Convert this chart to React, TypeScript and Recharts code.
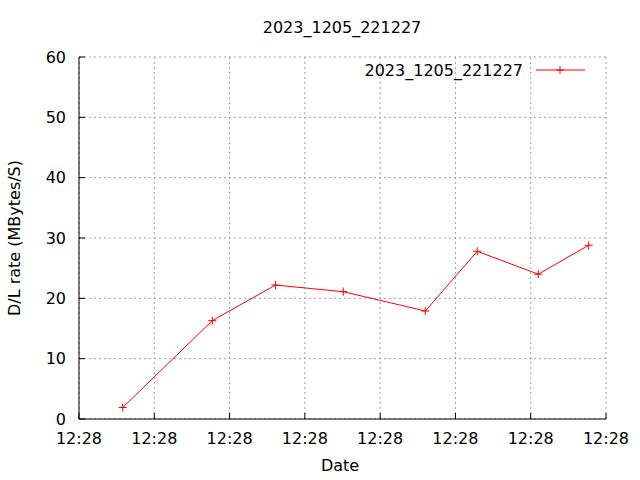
import React from "react";
import { LineChart, Line, XAxis, YAxis, CartesianGrid } from "recharts";

const SERIES_NAME = "2023_1205_221227";
// seconds since the first tick (all ticks print as 12:28)
const times = [5.8, 17.7, 26.1, 35.1, 46.0, 52.9, 61.0, 67.7];
const rates = [1.9, 16.3, 22.2, 21.1, 17.9, 27.8, 24.0, 28.8];
const xTicks = [0, 10, 20, 30, 40, 50, 60, 70];
const xTickLabels = ["12:28", "12:28", "12:28", "12:28", "12:28", "12:28", "12:28", "12:28"];
const yTicks = [0, 10, 20, 30, 40, 50, 60];

const FONT = "'DejaVu Sans', sans-serif";
const data = times.map((t, i) => ({ t, rate: rates[i] }));

const PlusDot = (props: any) => {
  const { cx, cy } = props;
  if (cx == null || cy == null) return null;
  return (
    <path
      d={`M${cx - 4},${cy}h8M${cx},${cy - 4}v8`}
      stroke="#ff0000"
      strokeWidth={1}
      fill="none"
    />
  );
};

const tickStyle = { fill: "#000", fontSize: 16, fontFamily: FONT };

export default function App() {
  return (
    <div style={{ position: "absolute", left: 0, top: 0, width: 640, height: 480, background: "#fff" }}>
      <LineChart
        width={640}
        height={480}
        data={data}
        margin={{ top: 57, right: 34, bottom: 0, left: 0 }}
      >
        <CartesianGrid stroke="#a0a0a0" strokeDasharray="2 3" verticalValues={xTicks} horizontalValues={yTicks} />
        <XAxis
          dataKey="t"
          type="number"
          domain={[0, 70]}
          ticks={xTicks}
          tickFormatter={(v: number) => xTickLabels[xTicks.indexOf(v)] ?? ""}
          height={61}
          tickSize={-6}
          tickMargin={20}
          stroke="#000"
          tick={tickStyle}
          interval={0}
        />
        <XAxis
          xAxisId="top"
          orientation="top"
          type="number"
          domain={[0, 70]}
          ticks={xTicks}
          tickFormatter={() => ""}
          height={0}
          tickSize={-6}
          stroke="#000"
          interval={0}
        />
        <YAxis
          type="number"
          domain={[0, 60]}
          ticks={yTicks}
          width={79}
          tickSize={-6}
          tickMargin={19}
          stroke="#000"
          tick={tickStyle}
          interval={0}
        />
        <YAxis
          yAxisId="right"
          orientation="right"
          type="number"
          domain={[0, 60]}
          ticks={yTicks}
          width={0}
          tickSize={-6}
          tickFormatter={() => ""}
          stroke="#000"
          interval={0}
        />
        <Line
          dataKey="rate"
          name={SERIES_NAME}
          stroke="#ff0000"
          strokeWidth={1}
          dot={<PlusDot />}
          activeDot={false}
          isAnimationActive={false}
        />
      </LineChart>
      <svg
        width={640}
        height={480}
        style={{ position: "absolute", left: 0, top: 0, pointerEvents: "none" }}
        fontFamily={FONT}
        fontSize={16}
        fill="#000"
      >
        <text x={342} y={27} textAnchor="middle" dominantBaseline="central">
          {SERIES_NAME}
        </text>
        <text x={340} y={465} textAnchor="middle" dominantBaseline="central">
          Date
        </text>
        <text
          x={14}
          y={238}
          textAnchor="middle"
          dominantBaseline="central"
          transform="rotate(-90 14 238)"
        >
          D/L rate (MBytes/S)
        </text>
        <text x={523} y={70} textAnchor="end" dominantBaseline="central">
          {SERIES_NAME}
        </text>
        <line x1={536} y1={70} x2={585} y2={70} stroke="#ff0000" strokeWidth={1} />
        <path d="M556,70h8M560,66v8" stroke="#ff0000" strokeWidth={1} />
      </svg>
    </div>
  );
}
